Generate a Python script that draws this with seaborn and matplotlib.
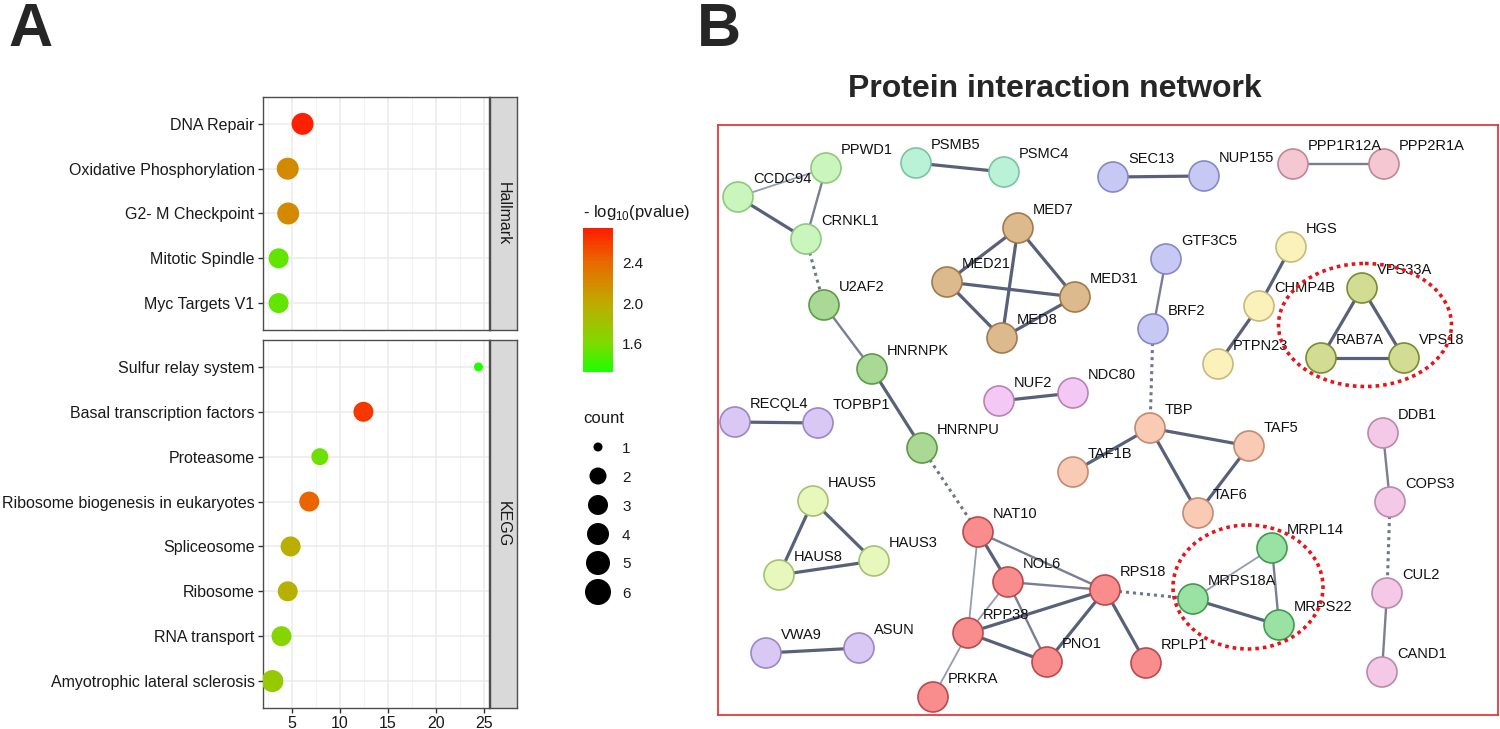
import matplotlib
matplotlib.use("Agg")
import numpy as np
import pandas as pd
import matplotlib.pyplot as plt
from matplotlib.colors import LinearSegmentedColormap, Normalize
from matplotlib.cm import ScalarMappable
from matplotlib.patches import Ellipse
import seaborn as sns

# ---------------- panel A: enrichment dot plot ----------------
hallmark_terms = ["DNA Repair", "Oxidative Phosphorylation", "G2- M Checkpoint",
                  "Mitotic Spindle", "Myc Targets V1"]
hallmark_fold = [6.1, 4.55, 4.6, 3.6, 3.6]
hallmark_logp = [2.72, 2.2, 2.2, 1.52, 1.52]
hallmark_count = [4, 4, 4, 3, 3]

kegg_terms = ["Sulfur relay system", "Basal transcription factors", "Proteasome",
              "Ribosome biogenesis in eukaryotes", "Spliceosome", "Ribosome",
              "RNA transport", "Amyotrophic lateral sclerosis"]
kegg_fold = [24.45, 12.45, 7.9, 6.8, 4.85, 4.55, 3.9, 2.95]
kegg_logp = [1.33, 2.62, 1.55, 2.42, 1.97, 1.95, 1.65, 1.75]
kegg_count = [1, 3, 2, 3, 3, 3, 3, 4]

x_ticks = [5, 10, 15, 20, 25]
logp_ticks = [1.6, 2.0, 2.4]
logp_range = (1.32, 2.74)
count_levels = [1, 2, 3, 4, 5, 6]

# ---------------- panel B: protein network ----------------
node_names = ["CCDC94", "PPWD1", "CRNKL1", "U2AF2", "HNRNPK", "HNRNPU", "PSMB5", "PSMC4",
              "SEC13", "NUP155", "PPP1R12A", "PPP2R1A", "MED7", "MED21", "MED31", "MED8",
              "GTF3C5", "BRF2", "HGS", "CHMP4B", "PTPN23", "VPS33A", "RAB7A", "VPS18",
              "RECQL4", "TOPBP1", "NUF2", "NDC80", "TBP", "TAF1B", "TAF5", "TAF6",
              "DDB1", "COPS3", "CUL2", "CAND1", "HAUS5", "HAUS8", "HAUS3", "NAT10",
              "NOL6", "RPS18", "RPP38", "PNO1", "RPLP1", "PRKRA", "MRPL14", "MRPS18A",
              "MRPS22", "VWA9", "ASUN"]
node_x = [738, 826, 806, 824, 872, 922, 916, 1004,
          1113, 1204, 1293, 1384, 1018, 947, 1075, 1002,
          1166, 1153, 1291, 1259, 1218, 1362, 1321, 1404,
          735, 818, 999, 1073, 1150, 1073, 1249, 1198,
          1383, 1390, 1387, 1382, 813, 779, 874, 978,
          1008, 1105, 968, 1047, 1146, 933, 1272, 1193,
          1279, 766, 859]
node_y = [197, 168, 239, 305, 369, 448, 163, 172,
          177, 176, 164, 164, 228, 282, 297, 338,
          259, 329, 247, 306, 364, 288, 358, 358,
          422, 423, 401, 393, 428, 472, 446, 513,
          433, 502, 593, 672, 501, 575, 561, 532,
          582, 590, 633, 662, 663, 697, 548, 599,
          625, 653, 648]
node_group = ["spl", "spl", "spl", "hnr", "hnr", "hnr", "psm", "psm",
              "nup", "nup", "ppp", "ppp", "med", "med", "med", "med",
              "nup", "nup", "esc", "esc", "esc", "vps", "vps", "vps",
              "lav", "lav", "kin", "kin", "taf", "taf", "taf", "taf",
              "cul", "cul", "cul", "cul", "hau", "hau", "hau", "rib",
              "rib", "rib", "rib", "rib", "rib", "rib", "mrp", "mrp",
              "mrp", "lav", "lav"]

edge_src = ["CCDC94", "CCDC94", "PPWD1", "CRNKL1", "U2AF2", "HNRNPK", "HNRNPU", "PSMB5",
            "SEC13", "PPP1R12A", "MED7", "MED7", "MED7", "MED21", "MED21", "MED8",
            "GTF3C5", "BRF2", "HGS", "CHMP4B", "VPS33A", "VPS33A", "RAB7A", "RECQL4",
            "NUF2", "TBP", "TBP", "TBP", "TAF5", "HAUS5", "HAUS5", "HAUS8", "VWA9",
            "DDB1", "COPS3", "CUL2", "NAT10", "NAT10", "NAT10", "NOL6", "NOL6", "NOL6",
            "RPP38", "RPP38", "RPP38", "PNO1", "RPS18", "RPS18", "MRPS18A", "MRPS18A",
            "MRPL14"]
edge_dst = ["PPWD1", "CRNKL1", "CRNKL1", "U2AF2", "HNRNPK", "HNRNPU", "NAT10", "PSMC4",
            "NUP155", "PPP2R1A", "MED21", "MED8", "MED31", "MED31", "MED8", "MED31",
            "BRF2", "TBP", "CHMP4B", "PTPN23", "RAB7A", "VPS18", "VPS18", "TOPBP1",
            "NDC80", "TAF1B", "TAF5", "TAF6", "TAF6", "HAUS8", "HAUS3", "HAUS3", "ASUN",
            "COPS3", "CUL2", "CAND1", "NOL6", "RPS18", "RPP38", "RPS18", "RPP38", "PNO1",
            "RPS18", "PNO1", "PRKRA", "RPS18", "RPLP1", "MRPS18A", "MRPL14", "MRPS22",
            "MRPS22"]
edge_kind = ["thin", "thick", "mid", "dot", "mid", "thick", "dot", "thick",
             "thick", "mid", "thick", "thick", "thick", "thick", "thick", "thick",
             "mid", "dot", "thick", "thick", "thick", "thick", "thick", "thick",
             "thick", "thick", "thick", "thick", "thick", "thick", "thick", "thick", "thick",
             "mid", "dot", "mid", "thick", "mid", "thin", "mid", "thin", "mid",
             "thick", "thick", "thin", "thick", "thick", "dot", "thin", "thick",
             "mid"]

highlight_x = [1365, 1248]
highlight_y = [325, 587]
highlight_w = [173, 150]
highlight_h = [123, 124]

group_fill = {"spl": "#CAF5BD", "hnr": "#A9D994", "psm": "#BAF2D7", "nup": "#C8C8F4",
              "ppp": "#F4C7D2", "med": "#DDB98E", "esc": "#FAF1BB", "vps": "#D2DC93",
              "lav": "#D9C8F4", "kin": "#F4C8F4", "taf": "#F9CAB4", "cul": "#F4C8E7",
              "hau": "#E8F7BB", "rib": "#F98D8D", "mrp": "#9AE2A3"}
group_edge = {"spl": "#8DC97E", "hnr": "#5C9A47", "psm": "#7CC3A2", "nup": "#8787C6",
              "ppp": "#BF8796", "med": "#A17A4C", "esc": "#C7B97A", "vps": "#7A8B31",
              "lav": "#9B86C6", "kin": "#B782B8", "taf": "#C08B72", "cul": "#B98AA9",
              "hau": "#A7C071", "rib": "#B74A4A", "mrp": "#43994F"}
edge_style = {"thick": dict(color="#59607A", lw=2.3, ls="-"),
              "mid": dict(color="#777E96", lw=1.7, ls="-"),
              "thin": dict(color="#959BB0", lw=1.3, ls="-"),
              "dot": dict(color="#6F768C", lw=2.2, ls=(0, (1, 1.3)))}

sns.set_style("white")
plt.rcParams["font.family"] = ["Liberation Sans", "DejaVu Sans"]
plt.rcParams["mathtext.fontset"] = "custom"
plt.rcParams["mathtext.rm"] = "Liberation Sans"

W, H = 1500, 729
fig = plt.figure(figsize=(15, 7.29), dpi=100)


def box(x0, y0, x1, y1):
    return [x0 / W, 1 - y1 / H, (x1 - x0) / W, (y1 - y0) / H]


def px2pt(d):
    return (d * 0.72) ** 2


cmap = LinearSegmentedColormap.from_list(
    "gr", [(0.0, "#1CFF00"), (0.2, "#7FDA00"), (0.48, "#BFAA00"),
           (0.76, "#E86A00"), (1.0, "#FF1C00")])
count_diam = dict(zip(count_levels, [9, 17, 20, 22, 24, 26]))
size_map = {c: px2pt(d) for c, d in count_diam.items()}

facets = [("Hallmark", hallmark_terms, hallmark_fold, hallmark_logp, hallmark_count, 97, 330),
          ("KEGG", kegg_terms, kegg_fold, kegg_logp, kegg_count, 340, 708)]
for i, (name, terms, fold, logp, cnt, y0, y1) in enumerate(facets):
    ax = fig.add_axes(box(263, y0, 489, y1))
    df = pd.DataFrame({"term": terms, "fold": fold, "logp": logp, "count": cnt})
    df["pos"] = np.arange(len(terms))
    sns.scatterplot(data=df, x="fold", y="pos", hue="logp", size="count",
                    palette=cmap, hue_norm=logp_range, sizes=size_map,
                    linewidth=0, legend=False, ax=ax, zorder=3)
    n = len(terms)
    ax.set_ylim(n - 0.4, -0.6)
    ax.set_xlim(1.97, 25.55)
    ax.set_yticks(range(n))
    ax.set_yticklabels(terms)
    ax.set_xticks(x_ticks)
    ax.set_xticks([2.5, 7.5, 12.5, 17.5, 22.5], minor=True)
    ax.set_xlabel("")
    ax.set_ylabel("")
    ax.set_axisbelow(True)
    ax.grid(which="major", color="#EBEBEB", lw=1.1)
    ax.grid(which="minor", axis="x", color="#F3F3F3", lw=0.7)
    ax.tick_params(axis="both", which="major", length=3.6, width=1, color="#333333",
                   labelsize=11.5, labelcolor="#1A1A1A", pad=2.5, left=True, bottom=True)
    ax.tick_params(which="minor", length=0)
    if i == 0:
        ax.tick_params(axis="x", bottom=False, labelbottom=False)
    for sp in ax.spines.values():
        sp.set_color("#4D4D4D")
        sp.set_linewidth(1)

    strip = fig.add_axes(box(490, y0, 517, y1))
    strip.set_facecolor("#D9D9D9")
    strip.set_xticks([])
    strip.set_yticks([])
    for sp in strip.spines.values():
        sp.set_color("#4D4D4D")
        sp.set_linewidth(1)
    strip.text(0.5, 0.5, name, rotation=-90, ha="center", va="center",
               fontsize=11.5, color="#1A1A1A", transform=strip.transAxes)

# colour bar
cax = fig.add_axes(box(583, 228, 613, 372))
cb = fig.colorbar(ScalarMappable(norm=Normalize(*logp_range), cmap=cmap), cax=cax)
cb.set_ticks(logp_ticks)
cb.set_ticklabels([f"{t:.1f}" for t in logp_ticks])
cb.outline.set_visible(False)
cax.yaxis.set_ticks_position("both")
cax.tick_params(axis="y", direction="in", length=4.5, width=1, color="white",
                labelsize=11, labelcolor="#1A1A1A", pad=6.5, labelleft=False, labelright=True)

# overlay for free text and the size legend
ov = fig.add_axes([0, 0, 1, 1], zorder=5)
ov.set_xlim(0, W)
ov.set_ylim(H, 0)
ov.axis("off")
ov.patch.set_alpha(0)

ov.text(583, 217, r"- log$_{10}$(pvalue)", fontsize=12, color="#1A1A1A", va="baseline")
ov.text(583, 423, "count", fontsize=12, color="#1A1A1A", va="baseline")
leg = pd.DataFrame({"count": count_levels})
leg["y"] = 447 + 29 * np.arange(len(count_levels))
leg["x"] = 598
sns.scatterplot(data=leg, x="x", y="y", size="count", sizes=size_map, color="black",
                linewidth=0, legend=False, ax=ov)
for c, yy in zip(leg["count"], leg["y"]):
    ov.text(622, yy, str(c), fontsize=11, color="#1A1A1A", va="center_baseline")
ov.set_xlim(0, W)
ov.set_ylim(H, 0)
ov.set_xlabel("")
ov.set_ylabel("")

ov.text(8, 46, "A", fontsize=44, fontweight="bold", va="baseline")
ov.text(697, 46, "B", fontsize=44, fontweight="bold", va="baseline")
ov.text(1055, 97, "Protein interaction network", fontsize=23, fontweight="bold",
        ha="center", va="baseline")

# network panel
net = fig.add_axes(box(718, 125, 1498, 715))
net.set_xlim(718, 1498)
net.set_ylim(715, 125)
net.set_xticks([])
net.set_yticks([])
for sp in net.spines.values():
    sp.set_color("#E23B3B")
    sp.set_linewidth(1.3)

pos = {n: (x, y) for n, x, y in zip(node_names, node_x, node_y)}
for s, d, k in zip(edge_src, edge_dst, edge_kind):
    (xa, ya), (xb, yb) = pos[s], pos[d]
    st = edge_style[k]
    net.plot([xa, xb], [ya, yb], color=st["color"], lw=st["lw"], ls=st["ls"],
             solid_capstyle="butt", zorder=1)

nodes = pd.DataFrame({"name": node_names, "x": node_x, "y": node_y, "group": node_group})
net.scatter(nodes["x"], nodes["y"], s=px2pt(30),
            c=[group_fill[g] for g in nodes["group"]],
            edgecolors=[group_edge[g] for g in nodes["group"]],
            linewidths=1.2, zorder=3)
for n, x, y in zip(node_names, node_x, node_y):
    net.text(x + 15, y - 14, n, fontsize=10.5, color="#111111", va="baseline", zorder=4)

for cx, cy, w, h in zip(highlight_x, highlight_y, highlight_w, highlight_h):
    net.add_patch(Ellipse((cx, cy), w, h, fill=False, ec="#E8141A", lw=2.6,
                          ls=(0, (1, 1.1)), zorder=5))

fig.savefig("out.png", dpi=100)
